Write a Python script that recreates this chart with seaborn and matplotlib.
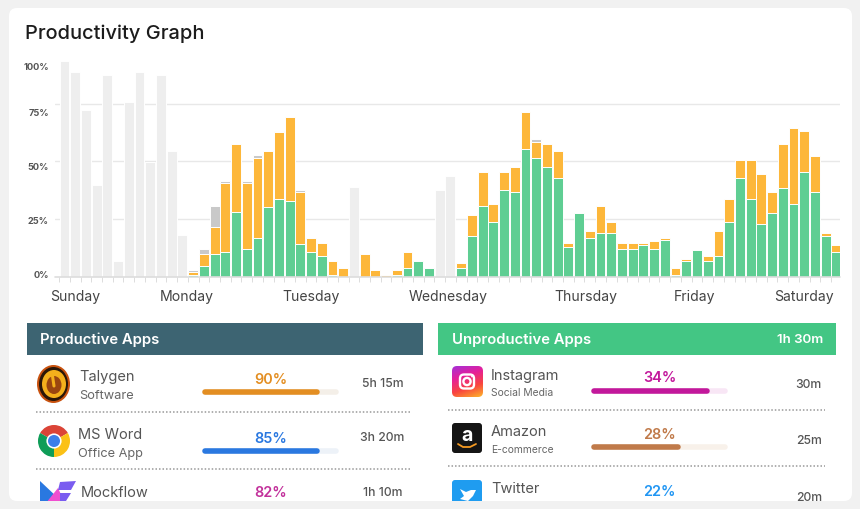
import numpy as np
import pandas as pd
import matplotlib
matplotlib.use("Agg")
import matplotlib.pyplot as plt
import seaborn as sns
from matplotlib.patches import Circle, Ellipse, FancyBboxPatch, Polygon, Rectangle, Wedge

# height of each layer top, one value per time slot (73 slots)
offline_top = [93.5, 88.6, 72.5, 39.7, 87.4, 6.9, 75.6, 88.6, 49.9, 87.4, 54.6, 17.9] + [0] * 15 + [38.9] + [0] * 7 + [37.7, 43.6] + [0] * 36
idle_top = [0] * 12 + [2.9, 11.8, 30.6, 41.5, 0, 41.5, 52.6, 0, 63.4, 0, 37.6] + [0] * 21 + [59.7] + [0] * 28
unproductive_top = [0] * 12 + [2.0, 10.0, 21.7, 40.7, 57.5, 40.7, 51.6, 54.6, 62.6, 69.4, 36.8,
                               16.8, 14.6, 6.8, 3.8, 0, 9.8, 2.9, 0.7, 2.9, 10.7, 0, 0, 0, 0,
                               5.8, 26.7, 45.4, 31.5, 45.4, 47.5, 71.4, 58.5, 57.5, 54.5, 14.6,
                               0, 19.8, 30.6, 23.7, 14.6, 14.6, 14.6, 15.6, 16.8, 3.8, 7.5, 0, 8.8,
                               19.8, 33.7, 50.6, 50.6, 44.5, 36.7, 57.5, 64.4, 63.4, 52.5, 18.8, 13.7]
productive_top = [0] * 12 + [0.9, 4.8, 10.0, 10.8, 27.9, 12.0, 16.9, 30.0, 33.8, 32.8, 14.0,
                             10.8, 9.0, 0.9, 0, 0, 0, 0, 0, 0.9, 3.9, 6.8, 3.8, 0, 0,
                             3.9, 17.8, 30.8, 23.8, 37.7, 36.8, 55.5, 51.6, 47.7, 42.6, 13.0,
                             27.6, 16.9, 18.8, 18.8, 11.8, 11.8, 13.9, 11.8, 15.9, 0.9, 6.9, 11.6, 6.9,
                             8.8, 23.8, 42.6, 33.8, 23.0, 27.7, 38.6, 31.6, 45.5, 36.8, 17.8, 10.8]
slots = list(range(73))
day_names = ["Sunday", "Monday", "Tuesday", "Wednesday", "Thursday", "Friday", "Saturday"]
day_slots = [1.0, 11.4, 23.0, 35.8, 48.6, 58.8, 69.0]
grid_values = [25, 50, 75]
y_labels = ["100%", "75%", "50%", "25%", "0%"]

prod_apps = ["Talygen", "MS Word", "Mockflow"]
prod_kinds = ["Software", "Office App", ""]
prod_pct = ["90%", "85%", "82%"]
prod_fill = [86, 86, 0]
prod_time = ["5h 15m", "3h 20m", "1h 10m"]
prod_colors = ["#e38e22", "#2a78e0", "#c2319b"]
prod_tracks = ["#f4efe8", "#edf2f8", "#f8eef5"]

unprod_apps = ["Instagram", "Amazon", "Twitter"]
unprod_kinds = ["Social Media", "E-commerce", ""]
unprod_pct = ["34%", "28%", "22%"]
unprod_fill = [87, 65, 0]
unprod_time = ["30m", "25m", "20m"]
unprod_colors = ["#c2189b", "#c07a4a", "#2196f3"]
unprod_tracks = ["#f8e6f5", "#f8f1ea", "#e8f3fc"]

sns.set_theme(style="white")
plt.rcParams["font.family"] = ["Inter", "DejaVu Sans"]

W, H = 860, 510
fig = plt.figure(figsize=(W / 100, H / 100), dpi=100, facecolor="#f1f1f1")

# page layer in pixel coordinates
page = fig.add_axes([0, 0, 1, 1], zorder=0)
page.set_xlim(0, W)
page.set_ylim(H - 1, -1)
page.axis("off")
page.add_patch(FancyBboxPatch((17, 16), 827, 477, boxstyle="round,pad=8,rounding_size=8", fc="white", ec="none"))

page.text(25, 33, "Productivity Graph", fontsize=14.4, color="#1c1c1c", va="center", ha="left", fontweight="medium")
for lab, y in zip(y_labels, [67, 113, 167, 221, 275]):
    page.text(49, y, lab, fontsize=6.6, color="#555555", fontweight="bold", ha="right", va="center")

# chart
ax = fig.add_axes([55 / W, 1 - 277.6 / H, 785 / W, 230.4 / H], zorder=1)
ax.patch.set_alpha(0)
layers = [(offline_top, "#eeeeee"), (idle_top, "#c9c9c9"), (unproductive_top, "#fdb73a"), (productive_top, "#5fce93")]
for tops, col in layers:
    sns.barplot(x=slots, y=tops, color=col, saturation=1, width=0.92, edgecolor="white", linewidth=0.7, ax=ax, zorder=3)
ax.set_xlim(-0.886, 72.34)
ax.set_ylim(0, 100)
ax.set_yticks([])
for v in grid_values:
    ax.axhline(v, color="#e8e8e8", lw=1.0, zorder=1)
ax.axhline(0, color="#dddddd", lw=1.2, zorder=5, clip_on=False)
ax.set_xticks(np.array(slots) - 0.5)
ax.set_xticklabels([])
ax.tick_params(axis="x", length=3.6, width=0.7, color="#dcdcdc", bottom=True, pad=0)
ax.set_xlabel("")
sns.despine(ax=ax, left=True, bottom=True, top=True, right=True)
for name, pos in zip(day_names, day_slots):
    ax.annotate(name, (pos, 0), xytext=(0, -13.8), textcoords="offset points", ha="center", va="center",
                fontsize=10.1, color="#444444", annotation_clip=False)


def panel(x0, x1, title, total, color):
    page.add_patch(Rectangle((x0, 323), x1 - x0, 32, fc=color, ec="none"))
    page.text(x0 + 13.5, 338.5, title, color="white", fontsize=10.7, fontweight="semibold", va="center")
    if total:
        page.text(x1 - 13, 339.5, total, color="white", fontsize=9.6, fontweight="semibold", va="center", ha="right")


def row(x_name, x_bar, x_time, time_ha, name, kind, pct, fill, tm, col, track, y_name, y_kind, y_pct, y_bar, y_time, kind_size):
    page.text(x_name, y_name, name, fontsize=10.5, color="#555555", va="center")
    if kind:
        page.text(x_name, y_kind, kind, fontsize=kind_size, color="#666666", va="center")
    page.text(x_bar + 67.5, y_pct, pct, fontsize=10.4, color=col, va="center", ha="center", fontweight="semibold")
    if fill:
        page.plot([x_bar + 2, x_bar + 133], [y_bar, y_bar], color=track, lw=4, solid_capstyle="round")
        page.plot([x_bar + 2, x_bar + fill / 100 * 135 - 2], [y_bar, y_bar], color=col, lw=4, solid_capstyle="round")
    page.text(x_time, y_time, tm, fontsize=8.8, color="#555555", va="center", ha=time_ha, fontweight="medium")


panel(27, 423, "Productive Apps", "", "#3d6472")
panel(438, 836, "Unproductive Apps", "1h 30m", "#43c684")

prod_name_y = [376, 434, 492]
prod_kind_y = [395, 453, 0]
prod_pct_y = [379, 438, 492]
prod_bar_y = [392, 451, 0]
prod_time_y = [383, 437, 492]
for i in range(3):
    row([79, 78, 81][i], 203, 382.5, "center", prod_apps[i], prod_kinds[i], prod_pct[i], prod_fill[i], prod_time[i],
        prod_colors[i], prod_tracks[i], prod_name_y[i], prod_kind_y[i], prod_pct_y[i], prod_bar_y[i], prod_time_y[i], 9.2)

unprod_name_y = [375, 431, 488]
unprod_kind_y = [392, 449, 0]
unprod_pct_y = [377, 434, 491]
unprod_bar_y = [391, 447, 0]
unprod_time_y = [384, 440, 497]
for i in range(3):
    row(491, 592, 822, "right", unprod_apps[i], unprod_kinds[i], unprod_pct[i], unprod_fill[i], unprod_time[i],
        unprod_colors[i], unprod_tracks[i], unprod_name_y[i], unprod_kind_y[i], unprod_pct_y[i], unprod_bar_y[i], unprod_time_y[i], 7.4)

# dotted separators
for x0, x1, y in [(36, 411, 412), (36, 411, 469), (448, 825, 410), (448, 825, 466)]:
    page.plot([x0, x1], [y, y], color="#999999", lw=1.1, ls=(0, (1, 1.3)))

# app icons, rough shapes
page.add_patch(Ellipse((53.5, 384), 33, 38, fc="#c9520f", ec="none"))
page.add_patch(Ellipse((53.5, 384), 29, 34, fc="#2a1708", ec="none"))
page.add_patch(Ellipse((54, 384), 24, 28, fc="#f4b01c", ec="none"))
page.add_patch(Ellipse((54, 385), 15, 18, fc="#9a4610", ec="none"))
page.plot([52.5, 54], [376, 386], color="#f4b01c", lw=2.2)

cx, cy = 54, 441
page.add_patch(Wedge((cx, cy), 16, 210, 330, fc="#db4437", ec="none"))
page.add_patch(Wedge((cx, cy), 16, 90, 210, fc="#0f9d58", ec="none"))
page.add_patch(Wedge((cx, cy), 16, 330, 90, fc="#fbc116", ec="none"))
page.add_patch(Circle((cx, cy), 7.6, fc="white", ec="none"))
page.add_patch(Circle((cx, cy), 6, fc="#3c7fe8", ec="none"))

page.add_patch(Polygon([(40, 481), (58, 498), (58, 503), (40, 503)], fc="#2a78e0", ec="none"))
page.add_patch(Polygon([(46, 503), (58, 488), (65, 503)], fc="#f04fd0", ec="none"))
page.add_patch(Polygon([(60, 482), (76, 481), (71, 490), (58, 490)], fc="#7a5cf0", ec="none"))
page.add_patch(Polygon([(60, 493), (71, 493), (66, 501), (60, 503)], fc="#7a5cf0", ec="none"))

grad = np.linspace(0, 1, 64)[:, None] + np.linspace(0, 1, 64)[None, :] * 0.35
ig = page.imshow(grad, extent=(452, 483, 397, 366), aspect="auto", cmap=matplotlib.colors.LinearSegmentedColormap.from_list(
    "ig", ["#a431d8", "#e51f9a", "#f9453f", "#fdb52a"]), zorder=2)
ig_box = FancyBboxPatch((456, 370), 23, 23, boxstyle="round,pad=4,rounding_size=5", fc="none", ec="none", transform=page.transData)
page.add_patch(ig_box)
ig.set_clip_path(ig_box)
page.add_patch(FancyBboxPatch((460, 374.5), 14, 14, boxstyle="round,pad=0,rounding_size=4", fc="none", ec="white", lw=1.7, zorder=3))
page.add_patch(Circle((467, 381.5), 3.6, fc="none", ec="white", lw=1.7, zorder=3))
page.add_patch(Circle((472, 376.5), 0.9, fc="white", ec="none", zorder=3))
page.set_xlim(0, W)
page.set_ylim(H - 1, -1)

page.add_patch(FancyBboxPatch((455, 426), 24, 24, boxstyle="round,pad=3,rounding_size=3", fc="#151515", ec="none"))
page.text(467, 435.5, "a", color="white", fontsize=14, fontweight="bold", ha="center", va="center")
page.plot([458, 463, 470, 476], [444, 447, 447, 444], color="#f59a23", lw=1.3)

page.add_patch(FancyBboxPatch((455, 483), 24, 30, boxstyle="round,pad=3,rounding_size=3", fc="#1f9cf0", ec="none"))
page.add_patch(Polygon([(460, 489), (466, 492), (471, 490), (476, 490), (473, 496), (468, 501), (460, 499), (464, 496)], fc="white", ec="none"))

# grey page strip cuts the list off at the bottom of the card
page.add_patch(Rectangle((0, 501), W, 10, fc="#f1f1f1", ec="none", zorder=50))

fig.savefig("out.png", dpi=100, facecolor=fig.get_facecolor())
